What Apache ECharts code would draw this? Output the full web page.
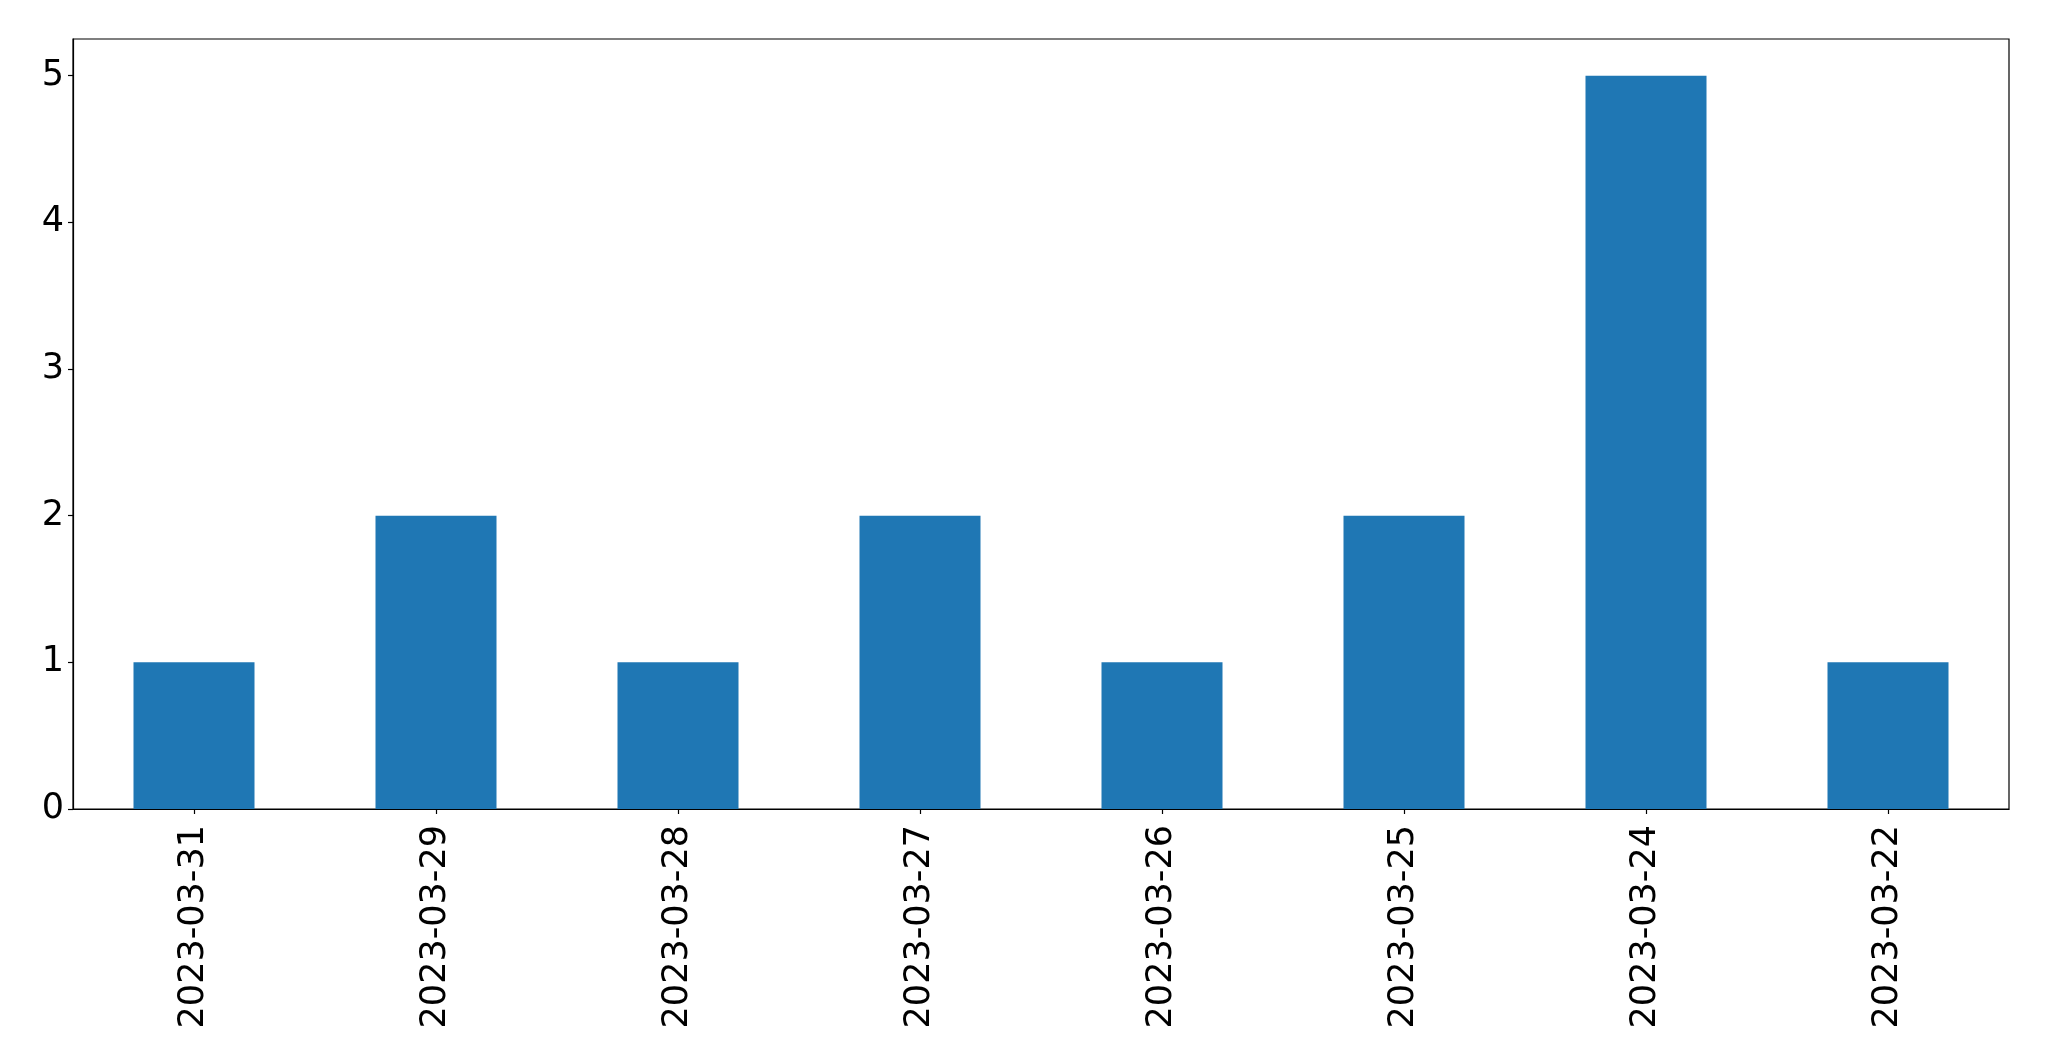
<!DOCTYPE html>
<html>
<head>
<meta charset="utf-8">
<script src="https://cdn.jsdelivr.net/npm/echarts@6/dist/echarts.min.js"></script>
<style>
html,body{margin:0;padding:0;background:#fff;}
#chart{width:2049px;height:1061px;}
</style>
</head>
<body>
<div id="chart"></div>
<script>
const categories = ['2023-03-31','2023-03-29','2023-03-28','2023-03-27','2023-03-26','2023-03-25','2023-03-24','2023-03-22'];
const values = [1, 2, 1, 2, 1, 2, 5, 1];
const yTicks = [0, 1, 2, 3, 4, 5];

const chart = echarts.init(document.getElementById('chart'));
const font = '"DejaVu Sans", sans-serif';
chart.setOption({
  animation: false,
  backgroundColor: '#fff',
  grid: {
    show: true, left: 73, right: 40, top: 39, bottom: 252,
    borderColor: '#000', borderWidth: 1.2, backgroundColor: 'transparent'
  },
  xAxis: {
    type: 'category',
    data: categories,
    boundaryGap: true,
    axisLine: {show: true, lineStyle: {color: '#000', width: 1.2}},
    axisTick: {show: true, alignWithLabel: true, length: 5, lineStyle: {color: '#000', width: 1.2}},
    axisLabel: {rotate: 90, margin: 16, color: '#000', fontSize: 35, fontFamily: font, interval: 0},
    splitLine: {show: false}
  },
  yAxis: {
    type: 'value',
    min: 0, max: 5.25, interval: 1,
    axisLine: {show: true, lineStyle: {color: '#000', width: 1.2}},
    axisTick: {show: true, length: 5, customValues: yTicks, lineStyle: {color: '#000', width: 1.2}},
    axisLabel: {margin: 9, color: '#000', fontSize: 35, fontFamily: font, customValues: yTicks},
    splitLine: {show: false}
  },
  series: [{
    type: 'bar',
    data: values,
    barWidth: '50%',
    itemStyle: {color: '#1f77b4'}
  }]
});
</script>
</body>
</html>
